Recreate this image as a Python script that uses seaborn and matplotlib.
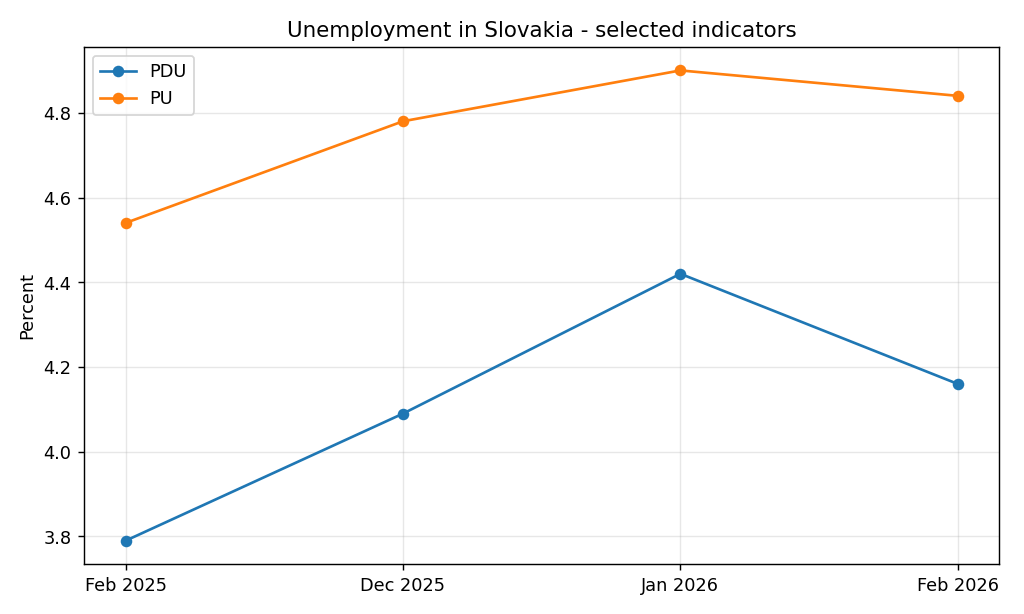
import matplotlib
matplotlib.use("Agg")
import matplotlib.pyplot as plt
import seaborn as sns
import pandas as pd

categories = ["Feb 2025", "Dec 2025", "Jan 2026", "Feb 2026"]
pdu = [3.79, 4.09, 4.42, 4.16]
pu = [4.54, 4.78, 4.90, 4.84]

df = pd.DataFrame({
    "x": list(range(len(categories))) * 2,
    "value": pdu + pu,
    "series": ["PDU"] * len(pdu) + ["PU"] * len(pu),
})

fig = plt.figure(figsize=(8, 4.8), dpi=128)
ax = fig.add_axes([0.082, 0.081, 0.894, 0.842])
sns.lineplot(data=df, x="x", y="value", hue="series", marker="o",
             markersize=6.5, markeredgewidth=0, linewidth=1.5,
             palette=["#1f77b4", "#ff7f0e"], ax=ax)
ax.set_xticks(range(len(categories)))
ax.set_xticklabels(categories)
ax.set_xlabel("")
ax.set_ylabel("Percent")
ax.set_title("Unemployment in Slovakia - selected indicators", fontsize=12)
ax.grid(True, alpha=0.3)
ax.legend(loc="upper left")
fig.savefig("out.png", dpi=128)
